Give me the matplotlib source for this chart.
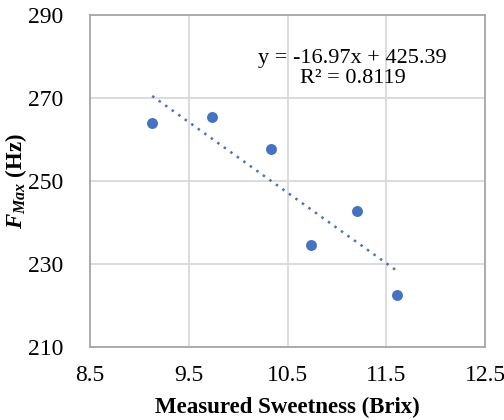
import matplotlib.pyplot as plt
import numpy as np

# Datos
brix = [9.13, 9.74, 10.33, 10.74, 11.20, 11.61]
fmax = [264.0, 265.3, 257.7, 234.5, 242.7, 222.7]

# Linea de tendencia (valores de la etiqueta)
pendiente = -16.97
ordenada = 425.39
r2 = 0.8119

plt.rcParams['font.family'] = 'Liberation Serif'
plt.rcParams['mathtext.fontset'] = 'custom'
plt.rcParams['mathtext.rm'] = 'Liberation Serif:bold'
plt.rcParams['mathtext.it'] = 'Liberation Serif:italic:bold'

fig = plt.figure(figsize=(5.04, 4.2), dpi=100)
ax = fig.add_axes([0.1786, 0.173, 0.7837, 0.792])

ax.scatter(brix, fmax, s=62, color='#4472C4', zorder=3, linewidths=0)

xt = np.array([min(brix), max(brix)])
ax.plot(xt, pendiente * xt + ordenada, linestyle=(0, (1, 2.2)), color='#4472C4',
        linewidth=1.8, zorder=2)

ax.text(11.16, 277.0, f'y = {pendiente:.2f}x + {ordenada:.2f}\nR² = {r2:.4f}',
        ha='center', va='center', fontsize=16, linespacing=1.1)

ax.set_xlim(8.5, 12.5)
ax.set_ylim(210, 290)
ax.set_xticks([8.5, 9.5, 10.5, 11.5, 12.5])
ax.set_yticks([210, 230, 250, 270, 290])
ax.set_xticklabels(['8.5', '9.5', '10.5', '11.5', '12.5'])
ax.tick_params(length=0, labelsize=17, pad=13)
ax.tick_params(axis='y', pad=19)

ax.grid(True, color='#d9d9d9', linewidth=1.3)
ax.set_axisbelow(True)
for s in ax.spines.values():
    s.set_color('#a6a6a6')
    s.set_linewidth(1.3)

ax.set_xlabel('Measured Sweetness (Brix)', fontsize=16.5, fontweight='bold')
ax.set_ylabel('$F_{Max}$ (Hz)', fontsize=16.5, fontweight='bold')
ax.xaxis.set_label_coords(0.5, -0.15)
ax.yaxis.set_label_coords(-0.155, 0.5)

fig.savefig('out.png', dpi=100)
